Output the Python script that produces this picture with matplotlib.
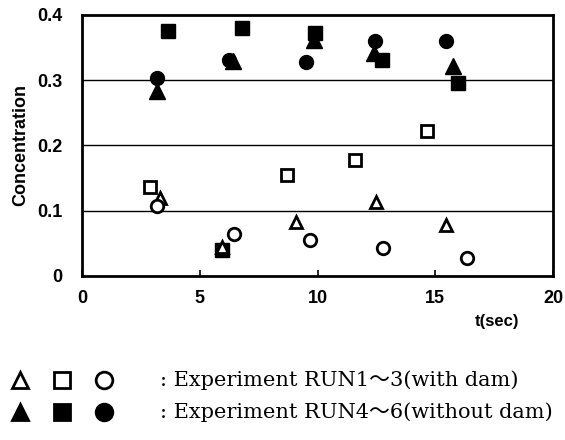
import matplotlib
matplotlib.use("Agg")
import matplotlib.pyplot as plt
from matplotlib.lines import Line2D

# run 1-3: with dam (open markers), run 4-6: without dam (filled markers)
t_run1 = [3.3, 5.95, 9.1, 12.5, 15.45]
c_run1 = [0.120, 0.044, 0.083, 0.114, 0.078]

t_run2 = [2.9, 8.7, 11.6, 14.65]
c_run2 = [0.136, 0.155, 0.177, 0.222]

t_run3 = [3.2, 6.45, 9.7, 12.8, 16.35]
c_run3 = [0.107, 0.064, 0.055, 0.043, 0.027]

t_run4 = [3.2, 6.4, 9.85, 12.4, 15.75]
c_run4 = [0.283, 0.330, 0.362, 0.341, 0.322]

t_run5 = [3.65, 5.95, 6.8, 9.9, 12.75, 15.95]
c_run5 = [0.375, 0.040, 0.380, 0.372, 0.331, 0.295]

t_run6 = [3.2, 6.25, 9.5, 12.45, 15.45]
c_run6 = [0.303, 0.331, 0.328, 0.360, 0.360]

x_ticks = [0, 5, 10, 15, 20]
y_ticks = [0, 0.1, 0.2, 0.3, 0.4]
y_tick_labels = ["0", "0.1", "0.2", "0.3", "0.4"]

legend_open = ": Experiment RUN1\uff5e3(with dam)"
legend_filled = ": Experiment RUN4\uff5e6(without dam)"

fig = plt.figure(figsize=(5.65, 4.4), dpi=100)
ax = fig.add_axes([0.145, 0.373, 0.834, 0.593])

for y in y_ticks[1:-1]:
    ax.axhline(y, color="black", linewidth=1.0, zorder=1)

filled = dict(linestyle="none", color="black", zorder=3)
ax.plot(t_run4, c_run4, marker="^", markersize=11, **filled)
ax.plot(t_run5, c_run5, marker="s", markersize=10, **filled)
ax.plot(t_run6, c_run6, marker="o", markersize=10, **filled)

opened = dict(linestyle="none", markerfacecolor="white", markeredgecolor="black",
              markeredgewidth=2.0, zorder=4)
ax.plot(t_run1, c_run1, marker="^", markersize=9, **opened)
ax.plot(t_run2, c_run2, marker="s", markersize=9, **opened)
ax.plot(t_run3, c_run3, marker="o", markersize=9, **opened)

ax.set_xlim(0, 20)
ax.set_ylim(0, 0.4)
ax.set_xticks(x_ticks)
ax.set_xticklabels([str(v) for v in x_ticks], fontsize=13, fontweight="bold",
                   family="Liberation Sans")
ax.set_yticks(y_ticks)
ax.set_yticklabels(y_tick_labels, fontsize=13, fontweight="bold",
                   family="Liberation Sans")
ax.tick_params(axis="x", direction="in", length=4, width=1.2, pad=10)
ax.tick_params(axis="y", direction="in", length=0, pad=14)
for s in ax.spines.values():
    s.set_linewidth(2.0)

ax.set_ylabel("Concentration", fontsize=13, fontweight="bold",
              family="Liberation Sans", labelpad=6)
fig.text(0.88, 0.27, "t(sec)", fontsize=12, fontweight="bold",
         family="Liberation Sans", ha="center", va="center")

# legend block under the chart
for row_y, face in [(0.137, "white"), (0.064, "black")]:
    for x, m, ms in [(0.036, "^", 11), (0.11, "s", 12), (0.184, "o", 12)]:
        fig.add_artist(Line2D([x], [row_y], marker=m, markersize=ms,
                              markerfacecolor=face, markeredgecolor="black",
                              markeredgewidth=2.0, linestyle="none",
                              transform=fig.transFigure))

fam = ["DejaVu Serif", "Noto Sans CJK JP"]
fig.text(0.284, 0.137, legend_open, fontsize=15, family=fam, va="center")
fig.text(0.284, 0.064, legend_filled, fontsize=15, family=fam, va="center")

fig.savefig("out.png", dpi=100)
